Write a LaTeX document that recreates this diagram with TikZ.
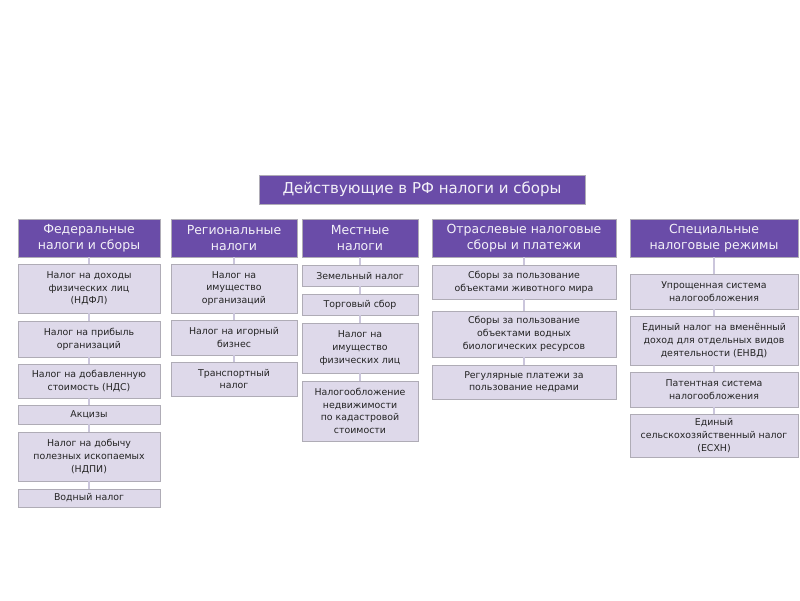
\documentclass[tikz,border=0pt]{standalone}
\usepackage{fontspec}
\setmainfont{DejaVu Sans}
\usetikzlibrary{shadows}
\definecolor{headviolet}{RGB}{106,76,168}
\definecolor{itemlilac}{RGB}{222,217,234}
\definecolor{linklilac}{RGB}{203,198,220}
\definecolor{edgegrey}{RGB}{175,172,182}
\tikzset{
	box/.style={draw=edgegrey, line width=0.8pt, align=center, inner sep=0pt,
		drop shadow={shadow xshift=1.3pt, shadow yshift=-1.3pt, fill=black!22, opacity=1}},
	titlebox/.style={box, fill=headviolet, text=white!92!headviolet, font=\fontsize{15}{18}\selectfont},
	headbox/.style={box, fill=headviolet, text=white!92!headviolet, font=\fontsize{12.5}{16}\selectfont},
	itembox/.style={box, fill=itemlilac, text=black!86, font=\fontsize{9.4}{12.8}\selectfont},
	link/.style={draw=linklilac, line width=2.6pt}
}

\begin{document}
\begin{tikzpicture}[x=1pt, y=-1pt]
		%%%%% START %%%%%
		\fill[white] (0,0) rectangle (800,600);
		\useasboundingbox (0,0) rectangle (800,600);
		
		\node[titlebox, minimum width=326pt, minimum height=29pt] (top) at (422,189.5) {Действующие в РФ налоги и сборы};
		
		% federal
		\node[headbox, minimum width=142pt, minimum height=38pt] (fed) at (89,238) {Федеральные\\налоги и сборы};
		\node[itembox, minimum width=142pt, minimum height=49pt] (fed1) at (89,288.5) {Налог на доходы\\физических лиц\\(НДФЛ)};
		\node[itembox, minimum width=142pt, minimum height=36pt] (fed2) at (89,339) {Налог на прибыль\\организаций};
		\node[itembox, minimum width=142pt, minimum height=34pt] (fed3) at (89,381) {Налог на добавленную\\стоимость (НДС)};
		\node[itembox, minimum width=142pt, minimum height=19pt] (fed4) at (89,414.5) {Акцизы};
		\node[itembox, minimum width=142pt, minimum height=49pt] (fed5) at (89,456.5) {Налог на добычу\\полезных ископаемых\\(НДПИ)};
		\node[itembox, minimum width=142pt, minimum height=18pt] (fed6) at (89,498) {Водный налог};
		
		% regional
		\node[headbox, minimum width=126pt, minimum height=38pt] (reg) at (234,238) {Региональные\\налоги};
		\node[itembox, minimum width=126pt, minimum height=49pt] (reg1) at (234,288.5) {Налог на\\имущество\\организаций};
		\node[itembox, minimum width=126pt, minimum height=35pt] (reg2) at (234,337.5) {Налог на игорный\\бизнес};
		\node[itembox, minimum width=126pt, minimum height=34pt] (reg3) at (234,379) {Транспортный\\налог};
		
		% local
		\node[headbox, minimum width=116pt, minimum height=38pt] (loc) at (360,238) {Местные\\налоги};
		\node[itembox, minimum width=116pt, minimum height=21pt] (loc1) at (360,275.5) {Земельный налог};
		\node[itembox, minimum width=116pt, minimum height=21pt] (loc2) at (360,304.5) {Торговый сбор};
		\node[itembox, minimum width=116pt, minimum height=50pt] (loc3) at (360,348) {Налог на\\имущество\\физических лиц};
		\node[itembox, minimum width=116pt, minimum height=60pt] (loc4) at (360,411) {Налогообложение\\недвижимости\\по кадастровой\\стоимости};
		
		% branch
		\node[headbox, minimum width=184pt, minimum height=38pt] (bra) at (524,238) {Отраслевые налоговые\\сборы и платежи};
		\node[itembox, minimum width=184pt, minimum height=34pt] (bra1) at (524,282) {Сборы за пользование\\объектами животного мира};
		\node[itembox, minimum width=184pt, minimum height=46pt] (bra2) at (524,334) {Сборы за пользование\\объектами водных\\биологических ресурсов};
		\node[itembox, minimum width=184pt, minimum height=34pt] (bra3) at (524,382) {Регулярные платежи за\\пользование недрами};
		
		% special
		\node[headbox, minimum width=168pt, minimum height=38pt] (spe) at (714,238) {Специальные\\налоговые режимы};
		\node[itembox, minimum width=168pt, minimum height=35pt] (spe1) at (714,291.5) {Упрощенная система\\налогообложения};
		\node[itembox, minimum width=168pt, minimum height=49pt] (spe2) at (714,340.5) {Единый налог на вменённый\\доход для отдельных видов\\деятельности (ЕНВД)};
		\node[itembox, minimum width=168pt, minimum height=35pt] (spe3) at (714,389.5) {Патентная система\\налогообложения};
		\node[itembox, minimum width=168pt, minimum height=43pt] (spe4) at (714,435.5) {Единый\\сельскохозяйственный налог\\(ЕСХН)};
		
		% links
		\draw[link] (fed.south) -- (fed1.north);
		\foreach \a/\b in {1/2,2/3,3/4,4/5,5/6} \draw[link] (fed\a.south) -- (fed\b.north);
		\draw[link] (reg.south) -- (reg1.north);
		\foreach \a/\b in {1/2,2/3} \draw[link] (reg\a.south) -- (reg\b.north);
		\draw[link] (loc.south) -- (loc1.north);
		\foreach \a/\b in {1/2,2/3,3/4} \draw[link] (loc\a.south) -- (loc\b.north);
		\draw[link] (bra.south) -- (bra1.north);
		\foreach \a/\b in {1/2,2/3} \draw[link] (bra\a.south) -- (bra\b.north);
		\draw[link] (spe.south) -- (spe1.north);
		\foreach \a/\b in {1/2,2/3,3/4} \draw[link] (spe\a.south) -- (spe\b.north);
		%%%%% END %%%%%
	\end{tikzpicture}
\end{document}
